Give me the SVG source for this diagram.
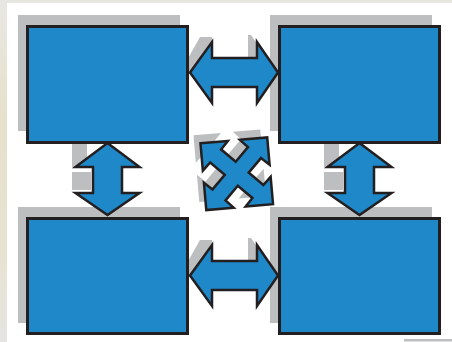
<svg xmlns="http://www.w3.org/2000/svg" width="452" height="342" viewBox="0 0 452 342">
<defs>
<linearGradient id="bg" x1="0" y1="0" x2="0" y2="1">
<stop offset="0" stop-color="#e9e7e3"/>
<stop offset="0.35" stop-color="#e6e1cc"/>
<stop offset="0.75" stop-color="#e7e3d3"/>
<stop offset="1" stop-color="#e6e4e1"/>
</linearGradient>
<style>
.box{fill:#1e88c8;stroke:#231f20;stroke-width:3}
.sh{fill:#bcbec0}
.arr{fill:#1e88c8;stroke:#231f20;stroke-width:2.5;stroke-linejoin:miter}
</style>
<polygon id="harr" points="0,0 22,-30.5 22,-14.5 67,-14.5 67,-30.5 88,0 67,30.5 67,14.5 22,14.5 22,30.5"/>
<path id="harrsh" d="M-1,-16 L10,-35.5 L22,-35.5 L22,-13 L-1,1 Z M58,-37.5 L61,-37.5 L81,-8.5 L67,-13 L58,-14 Z"/>
<polygon id="varr" points="0,0 32,24 14.5,24 14.5,50 32,50 0,72 -32,50 -14.5,50 -14.5,24 -32,24"/>
<path id="varrsh" d="M-35.5,1 L-20.5,1 L-20.5,17 L-32,24 L-35.5,24 Z M-35.5,29 L-16.5,29 L-16.5,47 L-35.5,47 Z"/>
<polygon id="xarr" points="-33.5,-33.5 -6,-33.5 -13.5,-25.5 0,-12 13.5,-25.5 6,-33.5 33.5,-33.5 33.5,-6 25.5,-13.5 12,0 25.5,13.5 33.5,6 33.5,33.5 6,33.5 13.5,25.5 0,12 -13.5,25.5 -6,33.5 -33.5,33.5 -33.5,6 -25.5,13.5 -12,0 -25.5,-13.5 -33.5,-6"/>
</defs>
<rect width="452" height="342" fill="#ffffff"/>
<rect x="0" y="0" width="7" height="342" fill="url(#bg)"/>
<rect x="7" y="0" width="445" height="3" fill="#e8e6e1"/>
<rect x="404" y="339" width="48" height="2.5" fill="#bcbec0"/>

<g id="node-top-left">
<rect class="sh" x="18" y="15" width="162" height="116"/>
<rect class="box" x="27.5" y="26.5" width="160" height="116"/>
</g>
<g id="node-top-right">
<rect class="sh" x="270" y="15" width="162" height="116"/>
<rect class="box" x="279.5" y="26.5" width="160" height="116"/>
</g>
<g id="node-bottom-left">
<rect class="sh" x="18" y="207" width="162" height="116"/>
<rect class="box" x="27.5" y="218.5" width="160" height="115"/>
</g>
<g id="node-bottom-right">
<rect class="sh" x="270" y="207" width="162" height="116"/>
<rect class="box" x="279.5" y="218.5" width="160" height="115"/>
</g>

<g id="connectors">
<use href="#harrsh" class="sh" x="190" y="72.5"/>
<use href="#harr" class="arr" x="190" y="72.5"/>
<use href="#harrsh" class="sh" x="190" y="275.5"/>
<use href="#harr" class="arr" x="190" y="275.5"/>
<use href="#varrsh" class="sh" x="107.5" y="143"/>
<use href="#varr" class="arr" x="107.5" y="143"/>
<use href="#varrsh" class="sh" x="359.5" y="143"/>
<use href="#varr" class="arr" x="359.5" y="143"/>
<g transform="translate(236.75,173.75) rotate(-5)">
<use href="#xarr" class="sh" transform="rotate(5) translate(-7,-8) rotate(-5)"/>
<use href="#xarr" class="arr"/>
</g>
</g>
</svg>
